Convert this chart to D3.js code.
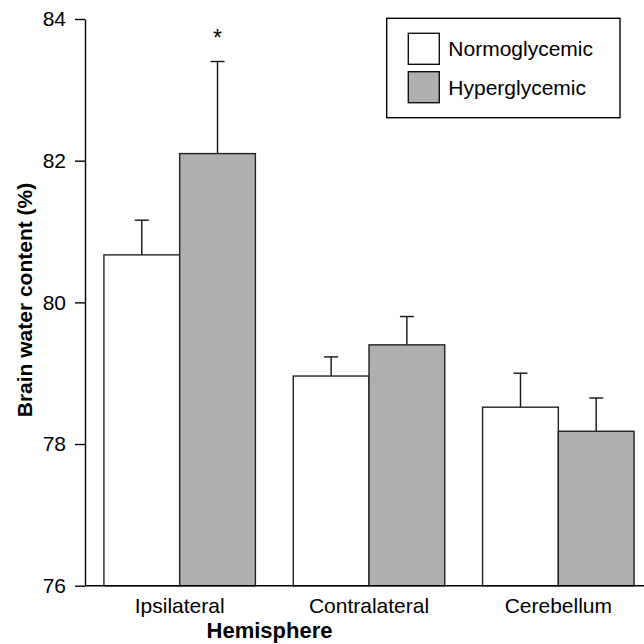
<!DOCTYPE html>
<html>
<head>
<meta charset="utf-8">
<script src="https://cdn.jsdelivr.net/npm/d3@7"></script>
<style>
  body { margin: 0; background: #fff; }
  text { font-family: "Liberation Sans", Arial, sans-serif; }
</style>
</head>
<body>
<div class="visHolder"></div>
<script>
var categories = ["Ipsilateral", "Contralateral", "Cerebellum"];
var groups = ["Normoglycemic", "Hyperglycemic"];
var normoMeans = [80.67, 78.96, 78.52];
var normoErr = [0.49, 0.27, 0.48];
var hyperMeans = [82.10, 79.40, 78.18];
var hyperErr = [1.30, 0.40, 0.47];
var significant = [true, false, false];
var yTicks = [76, 78, 80, 82, 84];

var width = 644,
  height = 644,
  marginLeft = 85,
  marginTop = 19,
  baseY = 585.7;

var color = d3.scaleOrdinal().domain(groups).range(['#ffffff', '#afafaf']);

var data = [];
categories.forEach(function (c, i) {
  data.push({ cat: c, group: groups[0], value: normoMeans[i], err: normoErr[i], star: false });
  data.push({ cat: c, group: groups[1], value: hyperMeans[i], err: hyperErr[i], star: significant[i] });
});

var svg = d3.select(".visHolder").append("svg").attr("width", width).attr("height", height);

var yScale = d3.scaleLinear().domain([76, 84]).range([baseY, marginTop]);
var x0 = d3.scaleBand().domain(categories).range([marginLeft, 653]).paddingInner(0.2).paddingOuter(0.1);
var x1 = d3.scaleBand().domain(groups).range([0, x0.bandwidth()]);

// error bars (drawn first so bar outlines sit on top)
var err = svg.append('g').attr('class', 'errors');
err.selectAll('line.stem')
  .data(data)
  .enter()
  .append('line')
  .attr('x1', d => x0(d.cat) + x1(d.group) + x1.bandwidth() / 2)
  .attr('x2', d => x0(d.cat) + x1(d.group) + x1.bandwidth() / 2)
  .attr('y1', d => yScale(d.value))
  .attr('y2', d => yScale(d.value + d.err))
  .attr('stroke', '#111')
  .attr('stroke-width', 1.4);
err.selectAll('line.cap')
  .data(data)
  .enter()
  .append('line')
  .attr('x1', d => x0(d.cat) + x1(d.group) + x1.bandwidth() / 2 - 7)
  .attr('x2', d => x0(d.cat) + x1(d.group) + x1.bandwidth() / 2 + 7)
  .attr('y1', d => yScale(d.value + d.err))
  .attr('y2', d => yScale(d.value + d.err))
  .attr('stroke', '#111')
  .attr('stroke-width', 1.4);

svg.append('g')
  .selectAll('rect')
  .data(data)
  .enter()
  .append('rect')
  .attr('x', d => x0(d.cat) + x1(d.group))
  .attr('y', d => yScale(d.value))
  .attr('width', x1.bandwidth())
  .attr('height', d => baseY - yScale(d.value))
  .style('fill', d => color(d.group))
  .attr('stroke', '#222')
  .attr('stroke-width', 1.4);

svg.selectAll('.star')
  .data(data.filter(d => d.star))
  .enter()
  .append('text')
  .attr('class', 'star')
  .attr('x', d => x0(d.cat) + x1(d.group) + x1.bandwidth() / 2)
  .attr('y', d => yScale(d.value + d.err) - 16)
  .attr('text-anchor', 'middle')
  .style('font-size', '23px')
  .text('*');

// axes
var yAxis = d3.axisLeft(yScale).tickValues(yTicks).tickSize(10).tickPadding(9).tickSizeOuter(0);
var gy = svg.append('g')
  .attr('transform', `translate(${marginLeft}, 0)`)
  .call(yAxis);
gy.selectAll('text').style('font-size', '21px').attr('fill', '#000');
gy.selectAll('line, path').attr('stroke', '#000').attr('stroke-width', 1.4);

svg.append('line')
  .attr('x1', marginLeft).attr('x2', width)
  .attr('y1', baseY).attr('y2', baseY)
  .attr('stroke', '#000')
  .attr('stroke-width', 1.4);

var xAxis = d3.axisBottom(x0).tickSize(0).tickPadding(12.4);
var gx = svg.append('g')
  .attr('transform', `translate(0, ${baseY})`)
  .call(xAxis);
gx.select('.domain').remove();
gx.selectAll('text').style('font-size', '21px').attr('fill', '#000');

svg.append('text')
  .attr('transform', 'translate(32, 300) rotate(-90)')
  .attr('text-anchor', 'middle')
  .style('font-size', '21px')
  .style('font-weight', 'bold')
  .text('Brain water content (%)');

svg.append('text')
  .attr('x', 269.5)
  .attr('y', 637.5)
  .attr('text-anchor', 'middle')
  .style('font-size', '22px')
  .style('font-weight', 'bold')
  .text('Hemisphere');

// legend
var legendContainer = svg.append('g').attr('id', 'legend');
legendContainer.append('rect')
  .attr('x', 386.7).attr('y', 18.3)
  .attr('width', 233.3).attr('height', 99.4)
  .attr('fill', '#fff')
  .attr('stroke', '#000')
  .attr('stroke-width', 1.4);

var legend = legendContainer.selectAll('.legend-label')
  .data(groups)
  .enter()
  .append('g')
  .attr('class', 'legend-label')
  .attr('transform', (d, i) => 'translate(408.3,' + (33.3 + i * 38.4) + ')');

legend.append('rect')
  .attr('width', 31)
  .attr('height', 31)
  .style('fill', color)
  .attr('stroke', '#111')
  .attr('stroke-width', 1.4);

legend.append('text')
  .attr('x', 40)
  .attr('y', 15.5)
  .attr('dy', '.35em')
  .style('font-size', '21px')
  .text(d => d);
</script>
</body>
</html>
